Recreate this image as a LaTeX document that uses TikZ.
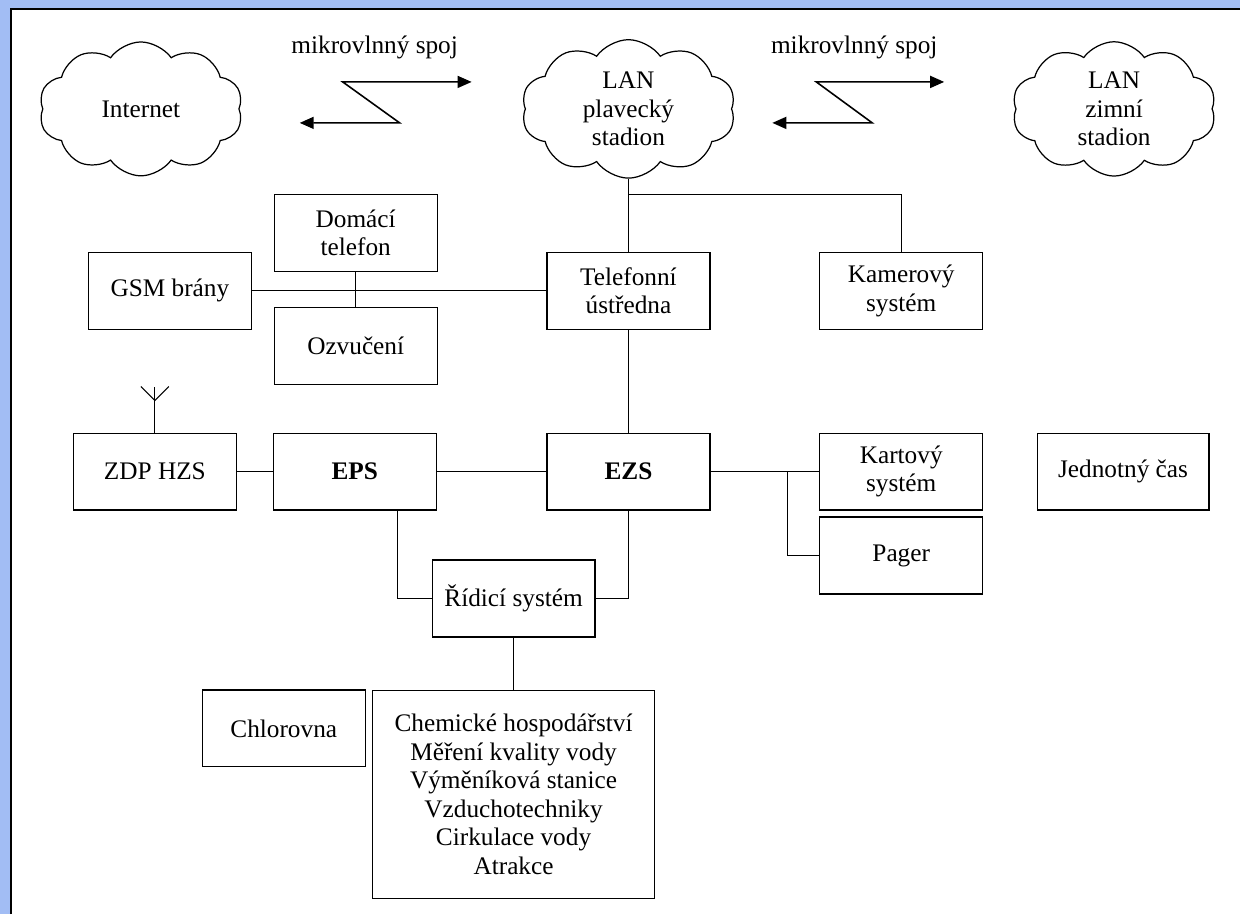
\documentclass[tikz,border=0pt]{standalone}
\usepackage{fontspec}
\setmainfont{Liberation Serif}
\usetikzlibrary{arrows.meta, shapes.symbols}
\definecolor{frameblue}{HTML}{A2BDF4}

\begin{document}
\begin{tikzpicture}[x=0.02cm, y=-0.02cm,
    font=\fontsize{14.4}{16.2}\selectfont,
    unit/.style={draw, line width=0.7pt, align=center, inner sep=2pt,
                 minimum width=163*0.02cm, minimum height=77*0.02cm},
    net/.style={cloud, draw, line width=0.7pt, align=center, cloud puffs=10,
                cloud puff arc=110, cloud ignores aspect,
                minimum width=#1*0.02cm, minimum height=134*0.02cm},
    link/.style={line width=0.6pt},
    radio/.style={line width=0.9pt,
                  {Triangle[length=0.28cm, width=0.24cm]}-{Triangle[length=0.28cm, width=0.24cm]}},
]
    % frame
    \fill[frameblue] (0,0) rectangle (1241,915);
    \fill[white] (11,9) rectangle (1241,915);
    \draw[line width=1.2pt] (11,915) -- (11,9) -- (1241,9);
    \useasboundingbox (0,0) rectangle (1241,915);

    % networks
    \node[net=204] (inet) at (141,109) {Internet};
    \node[net=214] (lanp) at (629,109) {LAN\\plavecký\\stadion};
    \node[net=204] (lanz) at (1115,109) {LAN\\zimní\\stadion};

    % microwave links
    \node (mw1) at (375,47) {mikrovlnný spoj};
    \node (mw2) at (855,47) {mikrovlnný spoj};
    \coordinate (mw1a) at (472,82);
    \coordinate (mw1b) at (300,123);
    \coordinate (mw2a) at (945,82);
    \coordinate (mw2b) at (773,123);
    \draw[radio] (mw1a) -- ++(-129,0) -- ++(57,41) -- (mw1b);
    \draw[radio] (mw2a) -- ++(-128,0) -- ++(56,41) -- (mw2b);

    % telephony
    \node[unit] (dom) at (356,233) {Domácí\\telefon};
    \node[unit] (gsm) at (170,291) {GSM brány};
    \node[unit] (ozv) at (356,346) {Ozvučení};
    \node[unit] (tel) at (629,291) {Telefonní\\ústředna};
    \node[unit] (kam) at (902,291) {Kamerový\\systém};

    % security
    \node[unit] (zdp) at (155,472) {ZDP HZS};
    \node[unit] (eps) at (355,472) {\textbf{EPS}};
    \node[unit] (ezs) at (629,472) {\textbf{EZS}};
    \node[unit] (kart) at (902,472) {Kartový\\systém};
    \node[unit] (pager) at (902,556) {Pager};
    \node[unit, minimum width=172*0.02cm] (cas) at (1124,472) {Jednotný čas};

    % control
    \node[unit] (rid) at (514,599) {Řídicí systém};
    \node[unit] (chlor) at (284,729) {Chlorovna};
    \node[unit, minimum width=282*0.02cm, minimum height=208*0.02cm] (tech) at (514,795)
        {Chemické hospodářství\\Měření kvality vody\\Výměníková stanice\\Vzduchotechniky\\Cirkulace vody\\Atrakce};

    % connections
    \coordinate (jct) at (629,195);
    \coordinate (pjct) at (788,472);
    \draw[link] (lanp.south) -- (tel.north);
    \draw[link] (jct) -| (kam.north);
    \draw[link] (gsm.east) -- (tel.west);
    \draw[link] (dom.south) -- (ozv.north);
    \draw[link] (tel.south) -- (ezs.north);
    \draw[link] (zdp.east) -- (eps.west);
    \draw[link] (eps.east) -- (ezs.west);
    \draw[link] (ezs.east) -- (kart.west);
    \draw[link] (pjct) |- (pager.west);
    \draw[link] (eps.south -| 398,0) |- (rid.west);
    \draw[link] (ezs.south) |- (rid.east);
    \draw[link] (rid.south) -- (tech.north);

    % antenna
    \draw[link] (zdp.north) -- ++(0,-46) coordinate (ant);
    \draw[link] (ant) ++(-14,0) -- ++(14,14) -- ++(14,-14);
\end{tikzpicture}
\end{document}
